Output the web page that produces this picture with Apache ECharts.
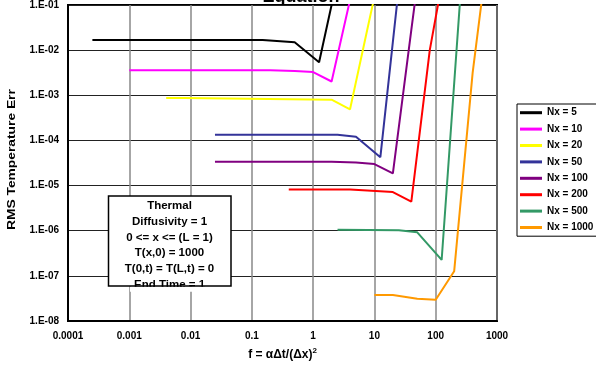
<!DOCTYPE html>
<html>
<head>
<meta charset="utf-8">
<script src="https://cdn.jsdelivr.net/npm/echarts@6.0.0/dist/echarts.min.js"></script>
<style>
html, body { margin: 0; padding: 0; background: #fff; }
#chart { width: 596px; height: 366px; }
</style>
</head>
<body>
<div id="chart"></div>
<script>
// values (f, RMS error)
var seriesNames = ['Nx = 5', 'Nx = 10', 'Nx = 20', 'Nx = 50', 'Nx = 100', 'Nx = 200', 'Nx = 500', 'Nx = 1000'];
var nx5 = [[0.00025, 0.0168], [0.0005, 0.0168], [0.15, 0.0168], [0.5, 0.0149], [1.25, 0.0054], [2.5, 0.4]];
var nx10 = [[0.001, 0.0036], [0.002, 0.0036], [0.2, 0.0036], [0.5, 0.00345], [1, 0.00327], [2, 0.00202], [4, 0.13]];
var nx20 = [[0.004, 0.00087], [0.008, 0.00087], [2, 0.0008], [4, 0.00049], [8, 0.038], [16, 2.8]];
var nx50 = [[0.025, 1.34e-4], [0.05, 1.34e-4], [2.5, 1.34e-4], [5, 1.21e-4], [12.5, 4.26e-5], [25, 0.25]];
var nx100 = [[0.025, 3.38e-5], [0.05, 3.38e-5], [2, 3.38e-5], [5, 3.26e-5], [10, 2.99e-5], [20, 1.87e-5], [40, 0.028], [80, 40]];
var nx200 = [[0.4, 8.2e-6], [0.5, 8.2e-6], [4, 8.2e-6], [20, 7.2e-6], [40, 4.4e-6], [80, 0.01], [160, 1.8]];
var nx500 = [[2.5, 1.05e-6], [25, 1.03e-6], [50, 9.2e-7], [125, 2.25e-7], [250, 0.13]];
var nx1000 = [[10, 3.76e-8], [20, 3.76e-8], [50, 3.11e-8], [100, 2.96e-8], [200, 1.26e-7], [400, 3.1e-3], [800, 5.5]];

var xTickLabels = ['0.0001', '0.001', '0.01', '0.1', '1', '10', '100', '1000'];
var yTickLabels = ['1.E-08', '1.E-07', '1.E-06', '1.E-05', '1.E-04', '1.E-03', '1.E-02', '1.E-01'];
var noteLines = ['Thermal', 'Diffusivity = 1', '0 <= x <= (L = 1)', 'T(x,0) = 1000', 'T(0,t) = T(L,t) = 0', 'End Time = 1'];

var allData = [nx5, nx10, nx20, nx50, nx100, nx200, nx500, nx1000];
var colors = ['#000000', '#ff00ff', '#ffff00', '#333399', '#800080', '#ff0000', '#339966', '#ff9900'];
var font = '"Liberation Sans", Arial, sans-serif';

var series = seriesNames.map(function (name, i) {
  return {
    name: name,
    type: 'line',
    data: allData[i],
    symbol: 'none',
    lineStyle: { color: colors[i], width: 2 },
    itemStyle: { color: colors[i] }
  };
});

var chart = echarts.init(document.getElementById('chart'));
chart.setOption({
  animation: false,
  backgroundColor: '#fff',
  grid: {
    left: 68, right: 99, top: 5, bottom: 42,
    show: true, borderColor: '#000', borderWidth: 2, backgroundColor: '#fff'
  },
  xAxis: {
    type: 'log',
    logBase: 10,
    min: 0.0001,
    max: 1000,
    axisLine: { show: true, lineStyle: { color: '#000', width: 2 } },
    axisTick: { show: false },
    splitLine: { show: true, lineStyle: { color: '#888', width: 1.5 } },
    axisLabel: {
      showMinLabel: true, showMaxLabel: true,
      margin: 10,
      color: '#000', fontFamily: font, fontWeight: 'bold', fontSize: 10,
      formatter: function (v) { return xTickLabels[Math.round(Math.log10(v)) + 4]; }
    },
    name: '{a|f = αΔt/(Δx)}{b|2}',
    nameLocation: 'middle',
    nameGap: 26,
    nameTextStyle: {
      rich: {
        a: { fontFamily: font, fontWeight: 'bold', fontSize: 12, color: '#000', lineHeight: 16 },
        b: { fontFamily: font, fontWeight: 'bold', fontSize: 8, color: '#000', verticalAlign: 'top', lineHeight: 16 }
      }
    }
  },
  yAxis: {
    type: 'log',
    logBase: 10,
    min: 1e-8,
    max: 0.1,
    axisLine: { show: true, lineStyle: { color: '#000', width: 2 } },
    axisTick: { show: false },
    splitLine: { show: true, lineStyle: { color: '#222', width: 1 } },
    axisLabel: {
      showMinLabel: true, showMaxLabel: true,
      margin: 9,
      color: '#000', fontFamily: font, fontWeight: 'bold', fontSize: 10,
      formatter: function (v) { return yTickLabels[Math.round(Math.log10(v)) + 8]; }
    }
  },
  legend: {
    orient: 'vertical',
    left: 517,
    top: 104,
    icon: 'rect',
    itemWidth: 22,
    itemHeight: 3,
    itemGap: 4.4,
    padding: [2.7, 4, 2.7, 3],
    borderColor: '#000',
    borderWidth: 1,
    backgroundColor: '#fff',
    textStyle: { fontFamily: font, fontWeight: 'bold', fontSize: 10, color: '#000', lineHeight: 12 },
    data: seriesNames
  },
  graphic: [
    {
      type: 'text', z: -10, x: 301, y: -3,
      style: { text: 'Equation', fontFamily: font, fontWeight: 'bold', fontSize: 18, fill: '#000', textAlign: 'center', textVerticalAlign: 'middle' }
    },
    {
      type: 'text', x: 12, y: 230, rotation: Math.PI / 2, scaleX: 1.38,
      style: {
        text: 'RMS Temperature Error', width: 104, overflow: 'truncate', ellipsis: '',
        fontFamily: font, fontWeight: 'bold', fontSize: 10, fill: '#000',
        textAlign: 'left', textVerticalAlign: 'middle'
      }
    },
    { type: 'rect', z: 20, shape: { x: 108.5, y: 196, width: 122.5, height: 90 }, style: { fill: '#fff' } },
    {
      type: 'text', z: 21, x: 169.5, y: 198.3,
      style: {
        text: noteLines.join('\n'), lineHeight: 15.7,
        fontFamily: font, fontWeight: 'bold', fontSize: 11.5, fill: '#000',
        textAlign: 'center', textVerticalAlign: 'top'
      }
    },
    { type: 'rect', z: 22, shape: { x: 130, y: 286.8, width: 80, height: 5 }, style: { fill: '#fff' } },
    { type: 'rect', z: 23, shape: { x: 108.5, y: 196, width: 122.5, height: 90 }, style: { fill: 'none', stroke: '#000', lineWidth: 1.5 } }
  ],
  series: series
});
</script>
</body>
</html>
